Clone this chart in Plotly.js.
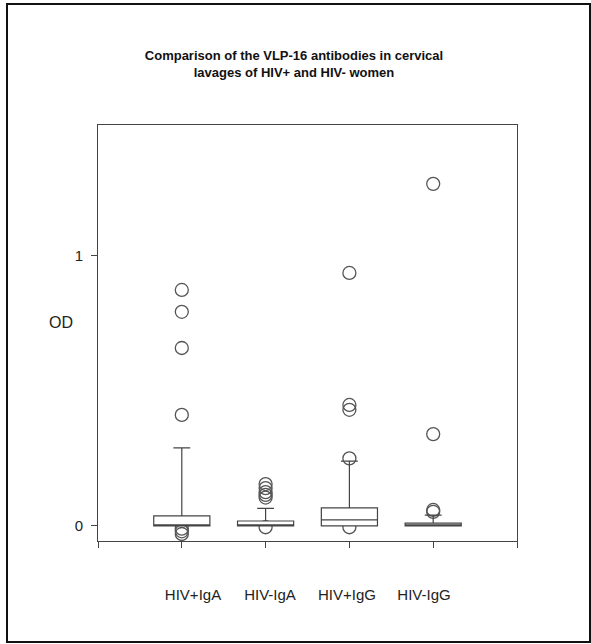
<!DOCTYPE html>
<html>
<head>
<meta charset="utf-8">
<script src="https://cdn.plot.ly/plotly-3.0.1.min.js"></script>
<style>
  html, body { margin: 0; padding: 0; background: #fff; }
  #wrap { position: relative; width: 591px; height: 644px; }
  #chart { width: 591px; height: 644px; }
  #frame { position: absolute; left: 6px; top: 3px; width: 581px; height: 636px;
           border: 2px solid #111; pointer-events: none; }
</style>
</head>
<body>
<div id="wrap"><div id="chart"></div><div id="frame"></div></div>
<script>
// ---- data ----
const categories = ['HIV+IgA', 'HIV-IgA', 'HIV+IgG', 'HIV-IgG'];
const q1         = [0.000, 0.000, 0.000, 0.000];
const medians    = [0.004, 0.004, 0.022, 0.003];
const q3         = [0.037, 0.018, 0.067, 0.010];
const lowerFence = [0.000, 0.000, 0.000, 0.000];
const upperFence = [0.289, 0.065, 0.240, 0.040];
const outliersHIVposIgA = [-0.010, -0.020, -0.030, 0.411, 0.659, 0.793, 0.874];
const outliersHIVnegIgA = [-0.005, 0.105, 0.115, 0.125, 0.140, 0.155];
const outliersHIVposIgG = [-0.005, 0.250, 0.430, 0.448, 0.937];
const outliersHIVnegIgG = [0.052, 0.059, 0.340, 1.267];
const yTickVals = [0, 1];
const yTickText = ['0', '1'];

const outlierSets = [outliersHIVposIgA, outliersHIVnegIgA, outliersHIVposIgG, outliersHIVnegIgG];
const positions = categories.map((c, i) => i);
const ox = [], oy = [];
outlierSets.forEach((arr, i) => arr.forEach(v => { ox.push(positions[i]); oy.push(v); }));

const lineCol = '#444';
const txtFont = 'Liberation Sans, Arial, sans-serif';
const yRange = [-0.056, 1.485];
const xRange = [-1, 4];

const traces = [
  { type: 'scatter', mode: 'markers', x: ox, y: oy, xaxis: 'x', yaxis: 'y',
    marker: { symbol: 'circle-open', size: 13, color: '#555', line: { width: 1.3, color: '#555' } },
    hoverinfo: 'y', showlegend: false },
  { type: 'box', x: positions, q1: q1, median: medians, q3: q3,
    lowerfence: lowerFence, upperfence: upperFence, xaxis: 'x2', yaxis: 'y2',
    width: 0.67, whiskerwidth: 0.3, boxpoints: false,
    fillcolor: '#ffffff', line: { color: lineCol, width: 1.2 }, showlegend: false },
  // carrier trace so the category-label axis is drawn (no visible marks)
  { type: 'scatter', mode: 'markers', x: positions, y: positions.map(() => null),
    xaxis: 'x3', yaxis: 'y', hoverinfo: 'skip', showlegend: false }
];

const layout = {
  width: 591, height: 644,
  margin: { l: 98, r: 74, t: 125, b: 103 },
  paper_bgcolor: '#ffffff', plot_bgcolor: '#ffffff',
  showlegend: false,
  title: { text: '<b>Comparison of the VLP-16 antibodies in cervical<br>lavages of HIV+ and HIV- women</b>',
           font: { family: txtFont, size: 13, color: '#111' },
           x: 294 / 591, xanchor: 'center', xref: 'container',
           y: 1 - 60 / 644, yanchor: 'top', yref: 'container' },
  xaxis: { range: xRange, tickvals: [xRange[0], 0, 1, 2, 3, xRange[1]], showticklabels: false,
           ticks: 'outside', ticklen: 6, tickcolor: lineCol, tickwidth: 1,
           showline: true, linecolor: lineCol, linewidth: 1, mirror: true,
           showgrid: false, zeroline: false, fixedrange: true },
  yaxis: { range: yRange, tickvals: yTickVals, ticktext: yTickText,
           ticks: 'outside', ticklen: 6, tickcolor: lineCol, tickwidth: 1,
           showline: true, linecolor: lineCol, linewidth: 1, mirror: true,
           showgrid: false, zeroline: false, fixedrange: true,
           tickfont: { family: txtFont, size: 15, color: '#222' }, ticklabelstandoff: 5 },
  xaxis2: { overlaying: 'x', range: xRange, visible: false, fixedrange: true },
  yaxis2: { overlaying: 'y', range: yRange, visible: false, fixedrange: true },
  xaxis3: { overlaying: 'x', anchor: 'y', side: 'bottom', range: [-1.234, 4.208],
            tickvals: positions, ticktext: categories, ticks: '', showline: false,
            showgrid: false, zeroline: false, fixedrange: true,
            tickfont: { family: txtFont, size: 15, color: '#222' }, ticklabelstandoff: 43 },
  annotations: [
    { text: 'OD', xref: 'paper', yref: 'paper', x: 0, y: (541 - 322.5) / (541 - 125),
      xanchor: 'center', yanchor: 'middle', xshift: -37, showarrow: false,
      font: { family: txtFont, size: 16, color: '#222' } }
  ]
};

Plotly.newPlot('chart', traces, layout, { displayModeBar: false, staticPlot: true });
</script>
</body>
</html>
